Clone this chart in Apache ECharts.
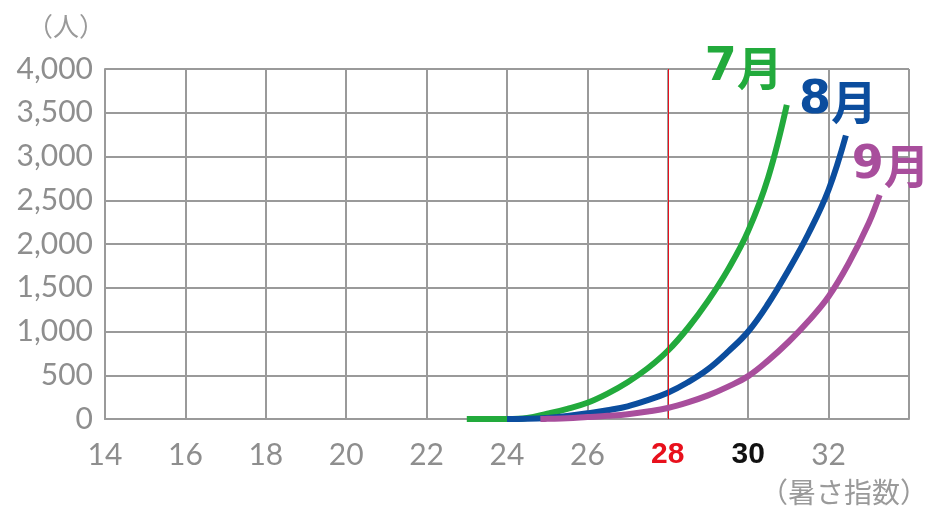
<!DOCTYPE html>
<html>
<head>
<meta charset="utf-8">
<script src="https://cdn.jsdelivr.net/npm/echarts@6/dist/echarts.min.js"></script>
<style>html,body{margin:0;padding:0;background:#fff;}#c{width:943px;height:512px;}</style>
</head>
<body>
<div id="c"></div>
<script>
// Data: [暑さ指数, 人]
const julyData = [[23,0],[23.5,0],[24,0],[24.5,12],[25,60],[25.5,115],[26,185],[26.5,290],[27,420],[27.5,580],[28,780],[28.5,1040],[29,1350],[29.5,1710],[30,2150],[30.5,2765],[30.96,3590]];
const augData  = [[24,0],[24.5,2],[25,12],[25.5,35],[26,65],[26.5,100],[27,145],[27.5,215],[28,300],[28.5,420],[29,570],[29.5,770],[30,1000],[30.5,1320],[31,1700],[31.5,2120],[32,2620],[32.43,3240]];
const septData = [[24.83,0],[25,2],[25.5,8],[26,22],[26.5,36],[27,54],[27.5,85],[28,126],[28.5,190],[29,270],[29.5,370],[30,490],[30.5,670],[31,880],[31.5,1120],[32,1400],[32.5,1780],[33,2240],[33.27,2560]];
const seriesNames = ['7月','8月','9月'];
const monthDigits = ['7','8','9'];
const seriesColors = ['#22aa3c','#0b4d9e','#a84e9c'];
const xTicks = [14,16,18,20,22,24,26,28,30,32];
const yTicks = [0,500,1000,1500,2000,2500,3000,3500,4000];
const refLineX = 28;

const chart = echarts.init(document.getElementById('c'));
const gray = '#9a9a9a';
const labelFont = 'Lato, "Noto Sans", sans-serif';
const labelOffsets = [[-90,-37],[-55,-34],[-36,-29]];
const datasets = [julyData, augData, septData];

const series = datasets.map((d, i) => ({
  name: seriesNames[i],
  type: 'line',
  data: d,
  smooth: 0.4,
  symbol: 'none',
  lineStyle: { color: seriesColors[i], width: 6 },
  endLabel: {
    show: true,
    formatter: '{d|' + monthDigits[i] + '}{m|月}',
    offset: labelOffsets[i],
    color: seriesColors[i],
    rich: {
      d: { color: seriesColors[i], fontSize: 46, fontWeight: 'bold', fontFamily: '"DejaVu Sans", sans-serif' },
      m: { color: seriesColors[i], fontSize: 46, fontWeight: 'bold', fontFamily: '"Noto Sans CJK JP", sans-serif' }
    }
  },
  z: 3 + i
}));
series[0].markLine = {
  silent: true,
  symbol: 'none',
  label: { show: false },
  lineStyle: { color: '#e8101c', width: 1, type: 'solid' },
  data: [{ xAxis: refLineX }]
};

chart.setOption({
  animation: false,
  grid: { left: 105, right: 34, top: 69, bottom: 93, containLabel: false },
  title: [
    { text: '（人）', left: 22, top: 8, textStyle: { color: gray, fontSize: 26, fontWeight: 'normal', fontFamily: '"Noto Sans CJK JP", sans-serif' } },
    { text: '（暑さ指数）', right: 10, top: 473, textStyle: { color: gray, fontSize: 28, fontWeight: 'normal', fontFamily: '"Noto Sans CJK JP", sans-serif' } }
  ],
  xAxis: {
    type: 'value', min: 14, max: 34, interval: 2,
    axisLine: { show: true, lineStyle: { color: gray, width: 2 } },
    axisTick: { show: false },
    splitLine: { show: true, lineStyle: { color: gray, width: 2 } },
    axisLabel: {
      margin: 21,
      showMaxLabel: false,
      color: '#8e8e8e', fontSize: 30, fontFamily: labelFont,
      formatter: v => {
        if (xTicks.indexOf(v) < 0) return '';
        if (v === 28) return '{r|28}';
        if (v === 30) return '{b|30}';
        return String(v);
      },
      rich: {
        r: { color: '#e8101c', fontSize: 30, fontWeight: 'bold', fontFamily: '"Liberation Sans", Arial, sans-serif' },
        b: { color: '#111', fontSize: 30, fontWeight: 'bold', fontFamily: '"Liberation Sans", Arial, sans-serif' }
      }
    }
  },
  yAxis: {
    type: 'value', min: 0, max: 4000, interval: 500,
    axisLine: { show: true, lineStyle: { color: gray, width: 2 } },
    axisTick: { show: false },
    splitLine: { show: true, lineStyle: { color: gray, width: 2 } },
    axisLabel: {
      margin: 12,
      color: '#8e8e8e', fontSize: 30, fontFamily: labelFont,
      formatter: v => yTicks.indexOf(v) >= 0 ? v.toLocaleString('en-US') : ''
    }
  },
  series: series
});
</script>
</body>
</html>
